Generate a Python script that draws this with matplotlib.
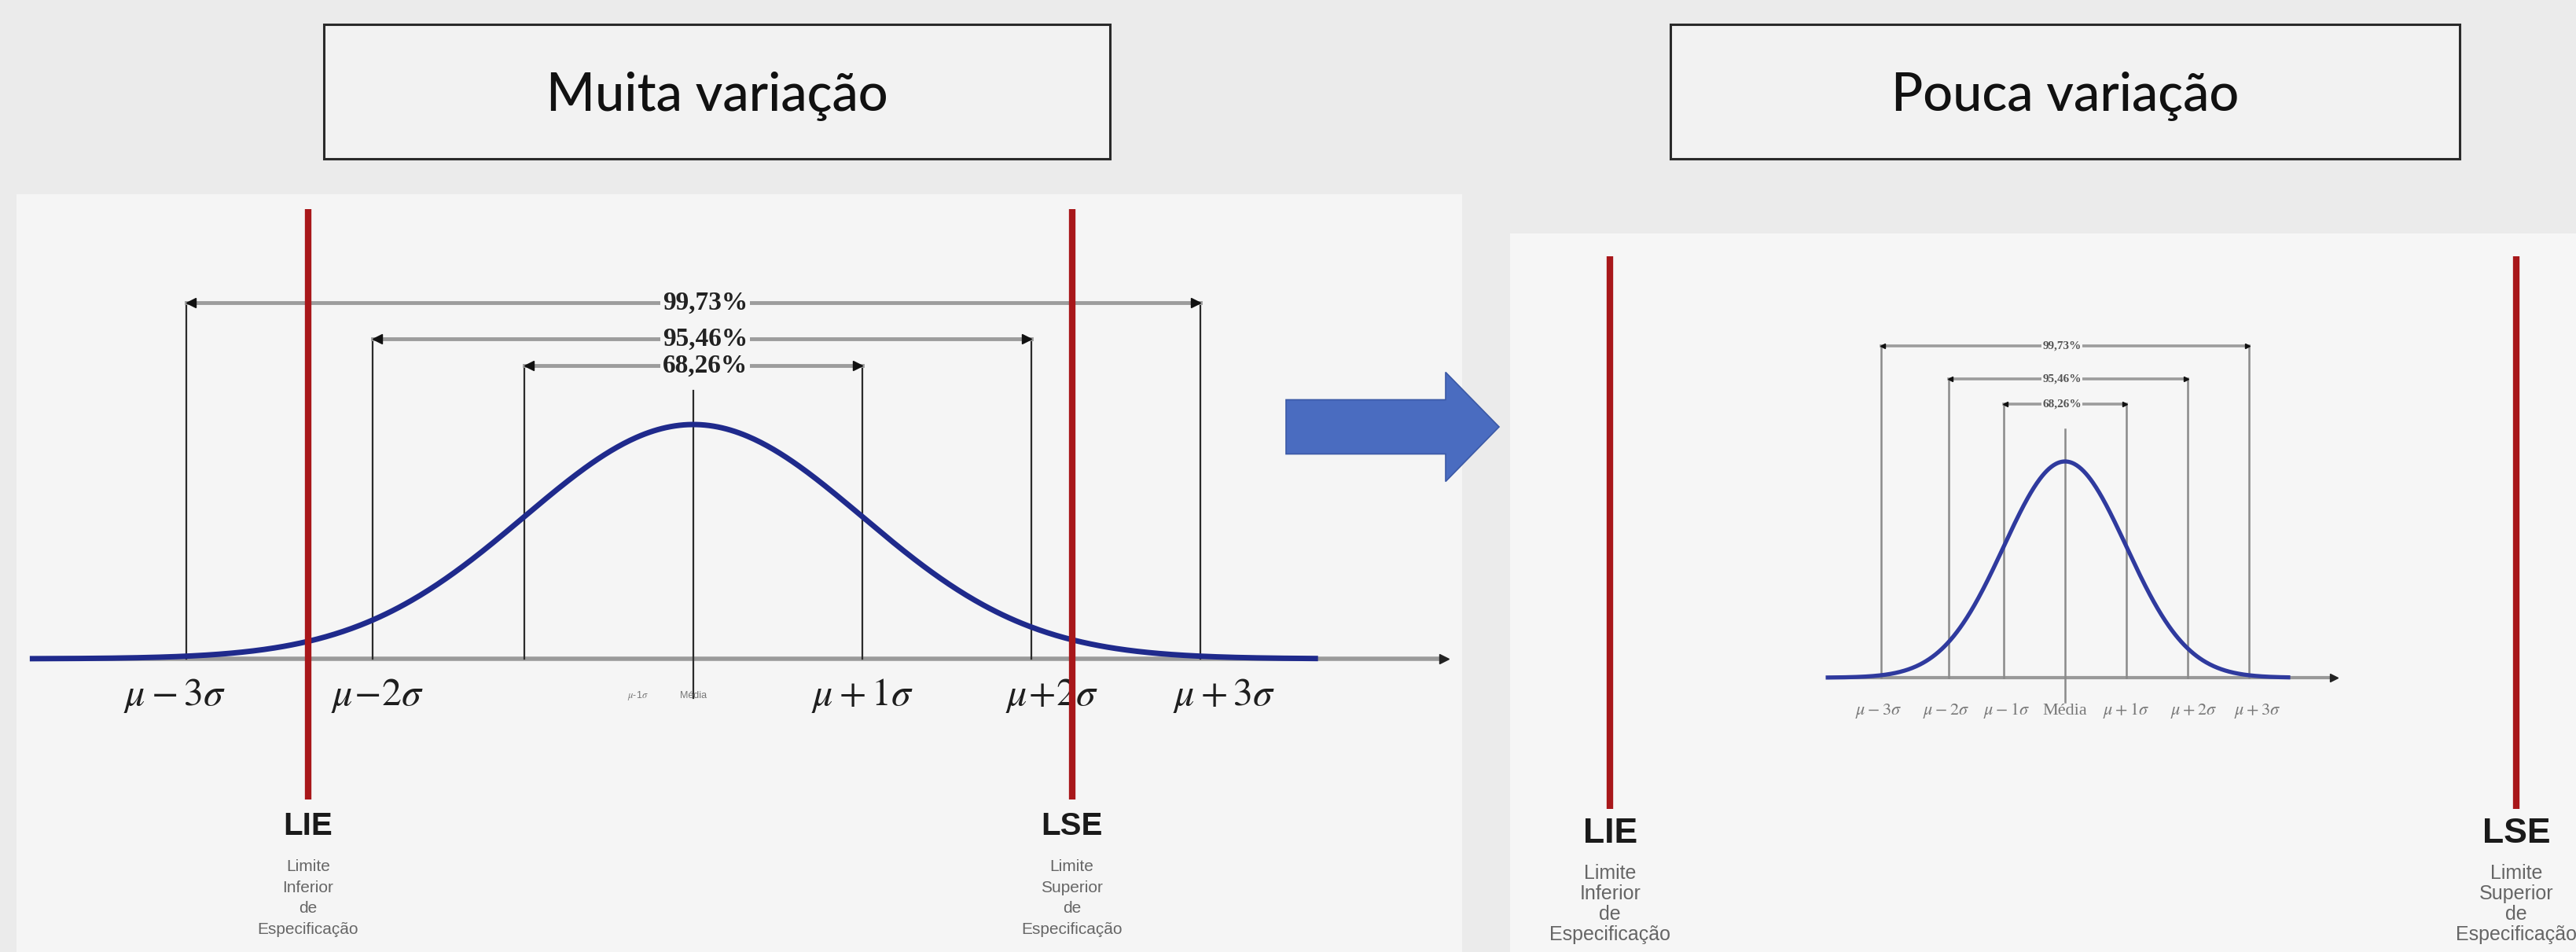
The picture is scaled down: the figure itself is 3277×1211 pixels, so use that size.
import numpy as np
import matplotlib
matplotlib.use("Agg")
import matplotlib.pyplot as plt
from matplotlib.patches import Rectangle, FancyArrow

plt.rcParams['mathtext.fontset'] = 'stix'

# ---- data (in sigma units / peak-height units) ----
marker_pos = [-3.0, -1.9, -1.0, 0.0, 1.0, 2.0, 3.0]
bracket_labels = ['99,73%', '95,46%', '68,26%']
bracket_pairs = [(0, 6), (1, 5), (2, 4)]

titles = ['Muita variação', 'Pouca variação']

# left picture (much variation)
left_bracket_y = [1.52, 1.366, 1.252]
left_label_x = 0.07
left_mean_line = (-0.168, 1.144)
left_curve_range = (-3.91, 3.68)
left_axis_range = (-3.91, 4.44)
left_spec = {'LIE': -2.28, 'LSE': 2.24}
left_spec_y = (-0.601, 1.919)
left_tick_x = [-3.07, -1.87, 1.0, 2.12, 3.14]
left_tick_txt = [r'$\mu-3\sigma$', r'$\mu\!-\!2\sigma$', r'$\mu+1\sigma$',
                 r'$\mu\!+\!2\sigma$', r'$\mu+3\sigma$']
left_small_x = [-0.33, 0.0]
left_small_txt = [r'$\mu$-1$\sigma$', 'Média']

# right picture (little variation)
right_bracket_y = [1.535, 1.382, 1.265]
right_label_x = -0.05
right_mean_line = (-0.113, 1.149)
right_curve_range = (-3.87, 3.64)
right_axis_range = (-3.87, 4.38)
right_spec = {'LIE': -7.42, 'LSE': 7.36}
right_spec_y = (-0.607, 1.949)
right_tick_x = [-3.05, -1.94, -0.96, 0.0, 0.99, 2.1, 3.13]
right_tick_txt = [r'$\mu-3\sigma$', r'$\mu-2\sigma$', r'$\mu-1\sigma$', 'Média',
                  r'$\mu+1\sigma$', r'$\mu+2\sigma$', r'$\mu+3\sigma$']

spec_desc = {'LIE': 'Limite\nInferior\nde\nEspecificação',
             'LSE': 'Limite\nSuperior\nde\nEspecificação'}

W, H = 3277, 1211
fig = plt.figure(figsize=(W / 100, H / 100), dpi=100)
fig.patch.set_facecolor('#ebebeb')

# background / slide layout in pixel units
bg = fig.add_axes([0, 0, 1, 1])
bg.set_xlim(0, W)
bg.set_ylim(H, 0)
bg.axis('off')
bg.add_patch(Rectangle((21, 247), 1839, 964, facecolor='#f5f5f5', edgecolor='none'))
bg.add_patch(Rectangle((1921, 297), 1356, 914, facecolor='#f6f6f6', edgecolor='none'))

for (x0, x1), t in zip([(412, 1412), (2125, 3129)], titles):
    bg.add_patch(Rectangle((x0, 31), x1 - x0, 171, facecolor='#f2f2f2',
                           edgecolor='#2a2a2a', lw=2.2))
    bg.text((x0 + x1) / 2, 122, t, ha='center', va='center', fontsize=48,
            family='Lato', weight='medium', color='#111111')

bg.add_patch(FancyArrow(1636, 543, 271, 0, width=69, head_width=139, head_length=68,
                        length_includes_head=True, facecolor='#4a6cc0',
                        edgecolor='#3b59a6', lw=1.2))


def bell_axes(mu_px, sig_px, base_px, peak_px, box):
    # box = (x0, y0, x1, y1) in pixels, y from top
    x0, y0, x1, y1 = box
    ax = fig.add_axes([x0 / W, (H - y1) / H, (x1 - x0) / W, (y1 - y0) / H])
    ax.set_xlim((x0 - mu_px) / sig_px, (x1 - mu_px) / sig_px)
    ax.set_ylim((base_px - y1) / peak_px, (base_px - y0) / peak_px)
    ax.axis('off')
    ax.patch.set_alpha(0)
    return ax


def draw_bell(ax, bracket_y, label_x, mean_line, curve_range, axis_range,
              spec, spec_y, big):
    if big:
        vcol, vlw, axcol, axlw = '#2b2b2b', 1.6, '#9a9a9a', 4.0
        ccol, clw = '#1f2a8c', 5.0
        pfs, pcol = 24, '#222222'
        spec_fs, desc_fs, desc_ls = 29, 15, 1.5
        panel = '#f5f5f5'
    else:
        vcol, vlw, axcol, axlw = '#8a8a8a', 1.8, '#999999', 3.0
        ccol, clw = '#2f3a9e', 3.8
        pfs, pcol = 11, '#555555'
        spec_fs, desc_fs, desc_ls = 32, 18, 1.1
        panel = '#f6f6f6'

    # horizontal axis with arrow
    ax.plot(axis_range, [0, 0], color=axcol, lw=axlw, solid_capstyle='butt', zorder=2)
    ax.plot([axis_range[1]], [0], marker='>', color='#222222', ms=9 if big else 7, zorder=3)

    # sigma marker lines and brackets
    for (i, j), yb, lab in zip(bracket_pairs, bracket_y, bracket_labels):
        for k in (i, j):
            ax.plot([marker_pos[k], marker_pos[k]], [0, yb], color=vcol, lw=vlw, zorder=2)
        ax.plot([marker_pos[i], marker_pos[j]], [yb, yb], color='#9c9c9c',
                lw=3.5 if big else 2.6, zorder=2)
        ax.plot([marker_pos[i] + 0.03], [yb], marker='<', color='#111111',
                ms=8 if big else 5, zorder=3)
        ax.plot([marker_pos[j] - 0.03], [yb], marker='>', color='#111111',
                ms=8 if big else 5, zorder=3)
        ax.text(label_x, yb, lab, ha='center', va='center', fontsize=pfs,
                family='Liberation Serif', weight='bold', color=pcol, zorder=4,
                bbox=dict(boxstyle='square,pad=0.08', facecolor=panel, edgecolor='none'))

    ax.plot([0, 0], mean_line, color=vcol, lw=vlw, zorder=2)

    # normal curve
    xs = np.linspace(curve_range[0], curve_range[1], 600)
    ax.plot(xs, np.exp(-0.5 * xs ** 2), color=ccol, lw=clw, zorder=5)

    # specification limits
    for name, xv in spec.items():
        ax.plot([xv, xv], spec_y, color='#a8171a', lw=6.0, solid_capstyle='butt', zorder=6)
        ax.text(xv, spec_y[0] - 0.115, name, ha='center', va='center', fontsize=spec_fs,
                family='Liberation Sans', weight='bold', color='#1a1a1a')
        ax.text(xv, spec_y[0] - 0.255, spec_desc[name], ha='center', va='top',
                fontsize=desc_fs, family='Liberation Sans', color='#666666',
                linespacing=desc_ls)


axL = bell_axes(882, 215, 838, 298, (0, 247, 1860, 1211))
draw_bell(axL, left_bracket_y, left_label_x, left_mean_line, left_curve_range,
          left_axis_range, left_spec, left_spec_y, True)
for xv, t in zip(left_tick_x, left_tick_txt):
    axL.text(xv, -0.158, t, ha='center', va='center', fontsize=36, color='#1e1e1e')
for xv, t in zip(left_small_x, left_small_txt):
    axL.text(xv, -0.158, t, ha='center', va='center', fontsize=9, color='#777777',
             family='Liberation Sans')

axR = bell_axes(2627, 78, 862, 275, (1921, 297, 3277, 1211))
draw_bell(axR, right_bracket_y, right_label_x, right_mean_line, right_curve_range,
          right_axis_range, right_spec, right_spec_y, False)
for xv, t in zip(right_tick_x, right_tick_txt):
    axR.text(xv, -0.153, t, ha='center', va='center', fontsize=16, color='#777777',
             family='Liberation Serif')

fig.savefig('out.png', dpi=100, facecolor=fig.get_facecolor())
